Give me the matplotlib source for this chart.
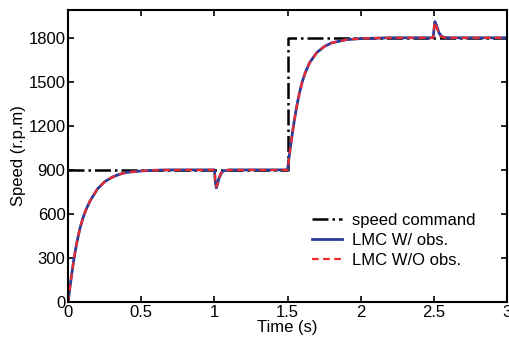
import numpy as np
import matplotlib.pyplot as plt

plt.rcParams['font.family'] = ['Liberation Sans', 'DejaVu Sans']

# speed command (step)
cmd_t = [0, 1.5, 1.5, 3.0]
cmd_v = [900, 900, 1800, 1800]

# response (time in s, speed in r.p.m)
t_obs = [0, 0.01, 0.02, 0.04, 0.06, 0.08, 0.10, 0.12, 0.15, 0.20, 0.25, 0.30,
         0.35, 0.40, 0.50, 0.60, 0.70, 1.00, 1.005, 1.012, 1.02, 1.03, 1.045,
         1.06, 1.10, 1.50, 1.51, 1.52, 1.54, 1.56, 1.58, 1.60, 1.62, 1.65,
         1.70, 1.75, 1.80, 1.90, 2.00, 2.20, 2.495, 2.507, 2.52, 2.535, 2.55,
         2.57, 2.60, 3.00]
v_obs = [0, 85, 160, 300, 410, 500, 570, 625, 690, 770, 820, 850,
         870, 883, 893, 898, 900, 900, 830, 778, 800, 840, 875,
         893, 900, 900, 985, 1060, 1200, 1320, 1420, 1500, 1560, 1630,
         1700, 1740, 1765, 1787, 1795, 1800, 1800, 1910, 1880, 1835, 1812,
         1803, 1800, 1800]

t_wo = [0, 0.01, 0.02, 0.04, 0.06, 0.08, 0.10, 0.12, 0.15, 0.20, 0.25, 0.30,
        0.35, 0.40, 0.50, 0.60, 0.70, 1.00, 1.005, 1.012, 1.02, 1.03, 1.045,
        1.06, 1.10, 1.50, 1.51, 1.52, 1.54, 1.56, 1.58, 1.60, 1.62, 1.65,
        1.70, 1.75, 1.80, 1.90, 2.00, 2.20, 2.495, 2.505, 2.515, 2.53, 2.545,
        2.565, 2.60, 3.00]
v_wo = [0, 85, 160, 300, 410, 500, 570, 625, 690, 770, 820, 850,
        870, 883, 893, 898, 900, 900, 835, 785, 805, 845, 878,
        894, 900, 900, 985, 1060, 1200, 1320, 1420, 1500, 1560, 1630,
        1700, 1740, 1765, 1787, 1795, 1800, 1800, 1905, 1890, 1840, 1812,
        1803, 1800, 1800]

fig = plt.figure(figsize=(5.09, 3.42), dpi=100)
ax = fig.add_axes([0.134, 0.117, 0.862, 0.854])

ax.plot(cmd_t, cmd_v, color='black', linestyle='-.', linewidth=1.8,
        label='speed command')
ax.plot(t_obs, v_obs, color='#2a3b9a', linewidth=2.0, label='LMC W/ obs.')
ax.plot(t_wo, v_wo, color='#ee2a2a', linestyle='--', linewidth=1.6,
        dashes=(3, 2), label='LMC W/O obs.')

ax.set_xlim(0, 3)
ax.set_ylim(0, 1990)
ax.set_xticks([0, 0.5, 1, 1.5, 2, 2.5, 3])
ax.set_xticklabels(['0', '0.5', '1', '1.5', '2', '2.5', '3'])
ax.set_yticks([0, 300, 600, 900, 1200, 1500, 1800])
ax.tick_params(direction='in', top=True, right=True, labelsize=12,
               length=4, width=1.2, pad=2)
for s in ax.spines.values():
    s.set_linewidth(1.5)

ax.set_xlabel('Time (s)', fontsize=12, labelpad=0)
ax.set_ylabel('Speed (r.p.m)', fontsize=12, labelpad=2)

ax.legend(loc='lower right', bbox_to_anchor=(0.963, 0.065), frameon=False,
          fontsize=12, handlelength=1.8, handletextpad=0.6,
          labelspacing=0.3)

fig.savefig('out.png', dpi=100)
